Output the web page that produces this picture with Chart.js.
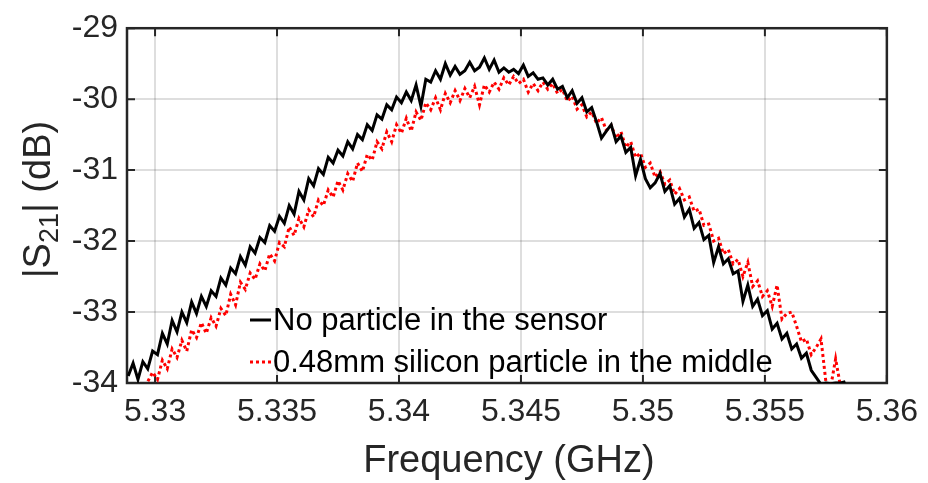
<!DOCTYPE html>
<html>
<head>
<meta charset="utf-8">
<script src="https://cdn.jsdelivr.net/npm/chart.js@4"></script>
<style>
  body { margin: 0; background: #fff; }
  #chart { display: block; }
</style>
</head>
<body>
<canvas id="chart" width="928" height="483"></canvas>
<script>
  // ===== Data =====
  const freqGHz = [
    5.3289, 5.3291, 5.3293, 5.3295, 5.3297, 5.3299, 5.3301, 5.3303, 5.3305, 5.3307,
    5.3309, 5.3311, 5.3313, 5.3315, 5.3317, 5.3319, 5.3321, 5.3323, 5.3325, 5.3327,
    5.3329, 5.3331, 5.3333, 5.3335, 5.3337, 5.3339, 5.3341, 5.3343, 5.3345, 5.3347,
    5.3349, 5.3351, 5.3353, 5.3355, 5.3357, 5.3359, 5.3361, 5.3363, 5.3365, 5.3367,
    5.3369, 5.3371, 5.3373, 5.3375, 5.3377, 5.3379, 5.3381, 5.3383, 5.3385, 5.3387,
    5.3389, 5.3391, 5.3393, 5.3395, 5.3397, 5.3399, 5.3401, 5.3403, 5.3405, 5.3407,
    5.3409, 5.3411, 5.3413, 5.3415, 5.3417, 5.3419, 5.3421, 5.3423, 5.3425, 5.3427,
    5.3429, 5.3431, 5.3433, 5.3435, 5.3437, 5.3439, 5.3441, 5.3443, 5.3445, 5.3447,
    5.3449, 5.3451, 5.3453, 5.3455, 5.3457, 5.3459, 5.3461, 5.3463, 5.3465, 5.3467,
    5.3469, 5.3471, 5.3473, 5.3475, 5.3477, 5.3479, 5.3481, 5.3483, 5.3485, 5.3487,
    5.3489, 5.3491, 5.3493, 5.3495, 5.3497, 5.3499, 5.3501, 5.3503, 5.3505, 5.3507,
    5.3509, 5.3511, 5.3513, 5.3515, 5.3517, 5.3519, 5.3521, 5.3523, 5.3525, 5.3527,
    5.3529, 5.3531, 5.3533, 5.3535, 5.3537, 5.3539, 5.3541, 5.3543, 5.3545, 5.3547,
    5.3549, 5.3551, 5.3553, 5.3555, 5.3557, 5.3559, 5.3561, 5.3563, 5.3565, 5.3567,
    5.3569, 5.3571, 5.3573, 5.3575, 5.3577, 5.3579, 5.3581, 5.3583
  ];

  // |S21| in dB, empty sensor
  const s21NoParticle = [
    -33.9, -33.72, -33.95, -33.7, -33.8, -33.55, -33.6, -33.3, -33.45, -33.12,
    -33.28, -33.0, -33.15, -32.86, -33.02, -32.78, -32.92, -32.7, -32.78, -32.52,
    -32.62, -32.38, -32.46, -32.22, -32.34, -32.08, -32.17, -31.95, -32.02, -31.78,
    -31.86, -31.65, -31.75, -31.5, -31.62, -31.3, -31.42, -31.12, -31.22, -30.98,
    -31.06, -30.82, -30.9, -30.72, -30.8, -30.6, -30.7, -30.5, -30.57, -30.36,
    -30.44, -30.22, -30.28, -30.08, -30.15, -29.97, -30.05, -29.9, -30.02, -29.8,
    -30.1, -29.72, -29.76, -29.6, -29.72, -29.5, -29.66, -29.54, -29.65, -29.6,
    -29.48, -29.6, -29.55, -29.42, -29.58, -29.45, -29.62, -29.56, -29.62, -29.58,
    -29.64, -29.52, -29.68, -29.63, -29.72, -29.7, -29.8, -29.72, -29.86, -29.82,
    -29.98, -29.88, -30.06, -29.98, -30.18, -30.12, -30.32, -30.55, -30.45, -30.36,
    -30.6, -30.52, -30.75, -30.68, -31.08, -30.85, -31.12, -31.25, -31.18, -31.05,
    -31.3, -31.22, -31.48, -31.4, -31.66, -31.55, -31.82, -31.74, -31.98, -31.92,
    -32.3, -32.08, -32.32, -32.25, -32.46, -32.42, -32.85, -32.62, -32.92, -32.82,
    -33.05, -32.98, -33.24, -33.16, -33.38, -33.3, -33.52, -33.45, -33.65, -33.58,
    -33.82, -33.92, -34.02, -34.0, -34.01, -34.0, -34.0, -33.98
  ];

  // |S21| in dB, 0.48 mm silicon particle in the middle
  const s21Particle = [
    -34.4, -34.3, -34.2, -34.1, -33.98, -33.85, -33.95, -33.68, -33.8, -33.52,
    -33.64, -33.4, -33.55, -33.25, -33.36, -33.15, -33.3, -33.08, -33.2, -32.95,
    -33.05, -32.75, -32.9, -32.58, -32.68, -32.45, -32.54, -32.32, -32.42, -32.18,
    -32.28, -32.02, -32.08, -31.8, -31.92, -31.68, -31.8, -31.56, -31.66, -31.42,
    -31.5, -31.28, -31.38, -31.15, -31.28, -31.05, -31.16, -30.9, -31.02, -30.78,
    -30.86, -30.6, -30.7, -30.46, -30.6, -30.36, -30.48, -30.27, -30.45, -30.18,
    -30.3, -30.05, -30.15, -29.98, -30.15, -29.92, -30.05, -29.88, -30.02, -29.85,
    -29.98, -29.82, -30.08, -29.8, -29.9, -29.76, -29.86, -29.7, -29.8, -29.68,
    -29.78, -29.72, -29.9, -29.78, -29.88, -29.76, -29.86, -29.78, -29.92, -29.86,
    -30.03, -29.96, -30.14, -30.08, -30.25, -30.18, -30.34, -30.26, -30.44, -30.37,
    -30.55, -30.46, -30.68, -30.6, -30.82, -30.76, -30.96, -30.9, -31.1, -31.02,
    -31.2, -31.14, -31.34, -31.26, -31.42, -31.38, -31.58, -31.55, -31.78, -31.76,
    -32.0, -31.96, -32.18, -32.12, -32.32, -32.26, -32.5, -32.3, -32.64, -32.56,
    -32.78, -32.7, -32.92, -32.62, -33.1, -33.02, -33.0, -33.2, -33.42, -33.38,
    -33.6, -33.5, -33.38, -33.98, -34.05, -33.66, -34.05, -34.2
  ];

  const seriesNames = ['No particle in the sensor', '0.48mm silicon particle in the middle'];
  const xTicks = [5.33, 5.335, 5.34, 5.345, 5.35, 5.355, 5.36];
  const xTickLabels = ['5.33', '5.335', '5.34', '5.345', '5.35', '5.355', '5.36'];
  const yTicks = [-34, -33, -32, -31, -30, -29];
  const yTickLabels = ['-34', '-33', '-32', '-31', '-30', '-29'];

  // ===== Style =====
  const FONT = "'Liberation Sans', Arial, Helvetica, sans-serif";
  const INK = '#262626';
  Chart.defaults.font.family = FONT;
  Chart.defaults.color = INK;

  const toPoints = (ys) => freqGHz.map((f, i) => ({ x: f, y: ys[i] }));

  // box, inward ticks, legend and axis titles (MATLAB look)
  const matlabFrame = {
    id: 'matlabFrame',
    beforeDatasetsDraw(chart) {
      const { ctx, chartArea: a, scales: { x, y } } = chart;
      ctx.save();
      ctx.strokeStyle = INK;
      ctx.lineWidth = 2;
      ctx.beginPath();
      xTicks.forEach(v => {
        const px = x.getPixelForValue(v);
        ctx.moveTo(px, a.bottom); ctx.lineTo(px, a.bottom - 8);
        ctx.moveTo(px, a.top); ctx.lineTo(px, a.top + 8);
      });
      yTicks.forEach(v => {
        const py = y.getPixelForValue(v);
        ctx.moveTo(a.left, py); ctx.lineTo(a.left + 8, py);
        ctx.moveTo(a.right, py); ctx.lineTo(a.right - 8, py);
      });
      ctx.stroke();
      ctx.lineWidth = 2.5;
      ctx.strokeRect(a.left, a.top, a.right - a.left, a.bottom - a.top);
      ctx.restore();
    },
    afterDraw(chart) {
      const { ctx, chartArea: a } = chart;
      ctx.save();

      // legend (no box)
      const rows = [
        { y: 320, ds: chart.data.datasets[0] },
        { y: 362, ds: chart.data.datasets[1] }
      ];
      ctx.font = `31px ${FONT}`;
      ctx.textBaseline = 'middle';
      ctx.textAlign = 'left';
      rows.forEach(r => {
        ctx.strokeStyle = r.ds.borderColor;
        ctx.lineWidth = r.ds.borderWidth;
        ctx.setLineDash(r.ds.borderDash || []);
        ctx.beginPath();
        ctx.moveTo(250, r.y); ctx.lineTo(271, r.y);
        ctx.stroke();
        ctx.setLineDash([]);
        ctx.fillStyle = '#000';
        ctx.fillText(r.ds.label, 273, r.y + 1);
      });

      // x title
      ctx.fillStyle = INK;
      ctx.textAlign = 'center';
      ctx.textBaseline = 'alphabetic';
      ctx.font = `38px ${FONT}`;
      ctx.fillText('Frequency (GHz)', (a.left + a.right) / 2 + 2, 472);

      // y title with subscript
      ctx.translate(50, (a.top + a.bottom) / 2 - 6);
      ctx.rotate(-Math.PI / 2);
      const big = `38px ${FONT}`, small = `27px ${FONT}`;
      const parts = [
        { t: '|S', f: big, dy: 0 },
        { t: '21', f: small, dy: 8 },
        { t: '| (dB)', f: big, dy: 0 }
      ];
      let total = 0;
      parts.forEach(p => { ctx.font = p.f; p.w = ctx.measureText(p.t).width; total += p.w; });
      let cx = -total / 2;
      ctx.textAlign = 'left';
      parts.forEach(p => {
        ctx.font = p.f;
        ctx.fillText(p.t, cx, p.dy);
        cx += p.w;
      });
      ctx.restore();
    }
  };

  new Chart(document.getElementById('chart'), {
    type: 'line',
    data: {
      datasets: [
        {
          label: seriesNames[0],
          data: toPoints(s21NoParticle),
          borderColor: '#000000',
          borderWidth: 3,
          pointRadius: 0,
          tension: 0
        },
        {
          label: seriesNames[1],
          data: toPoints(s21Particle),
          borderColor: '#ff0000',
          borderWidth: 3,
          borderDash: [3, 3],
          borderCapStyle: 'butt',
          pointRadius: 0,
          tension: 0
        }
      ]
    },
    options: {
      responsive: false,
      animation: false,
      events: [],
      layout: { padding: { left: 0, top: 24, right: 38, bottom: 0 } },
      plugins: { legend: { display: false }, tooltip: { enabled: false } },
      scales: {
        x: {
          type: 'linear',
          min: 5.32885,
          max: 5.36,
          afterBuildTicks: s => { s.ticks = xTicks.map(v => ({ value: v })); },
          afterFit: s => { s.height = 100; },
          border: { display: false },
          grid: { color: 'rgba(0,0,0,0.13)', lineWidth: 2, drawTicks: false },
          ticks: {
            autoSkip: false,
            maxRotation: 0,
            padding: 10,
            font: { size: 32 },
            color: INK,
            callback: (v, i) => xTickLabels[i]
          }
        },
        y: {
          min: -34,
          max: -29,
          afterBuildTicks: s => { s.ticks = yTicks.map(v => ({ value: v })); },
          afterFit: s => { s.width = 127; },
          border: { display: false },
          grid: { color: 'rgba(0,0,0,0.13)', lineWidth: 2, drawTicks: false },
          ticks: {
            padding: 9,
            font: { size: 32 },
            color: INK,
            callback: (v, i) => yTickLabels[i]
          }
        }
      }
    },
    plugins: [matlabFrame]
  });
</script>
</body>
</html>
